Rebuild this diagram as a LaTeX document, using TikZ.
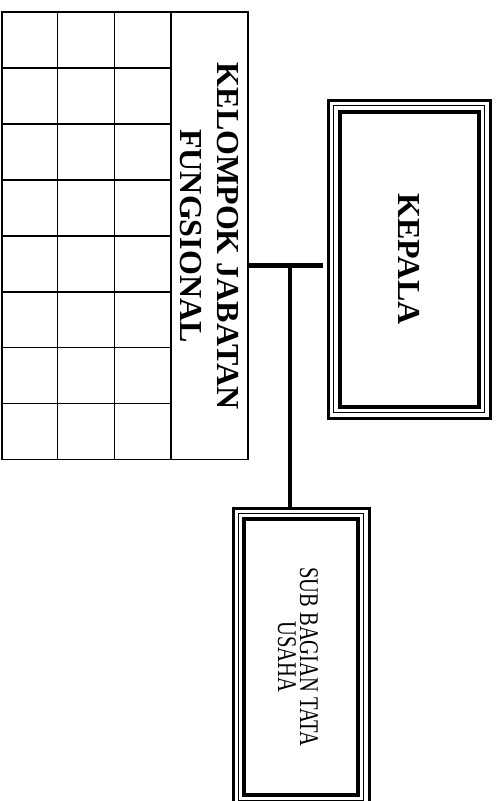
\documentclass[tikz,border=0pt]{standalone}
\usepackage{fontspec}
\setmainfont{Liberation Serif}
\newfontfamily\condserif[FakeStretch=0.76]{Liberation Serif}
\usetikzlibrary{calc}
\begin{document}
\begin{tikzpicture}[x=1pt,y=-1pt,
  gridline/.style={line width=1.6pt},
  conn/.style={line width=4.5pt},
  outerframe/.style={draw, line width=3pt, outer sep=0pt, inner sep=0pt},
  thinframe/.style={line width=1.3pt},
  innerframe/.style={line width=4pt},
  headfont/.style={font=\bfseries\fontsize{32}{37}\selectfont},
  subfont/.style={font=\condserif\fontsize{27}{22}\selectfont}]
\useasboundingbox (0,0) rectangle (498,801);
\clip (0,0) rectangle (498,801);
\fill[white] (0,0) rectangle (498,801);

% grid of the functional group
\node[draw, gridline, outer sep=0pt, inner sep=0pt, minimum width=246, minimum height=447.5, anchor=north west] (kelompok) at (1.8,12) {};
\foreach \x in {57.3,114.3,171} \draw[gridline] (\x,12) -- (\x,459.5);
\foreach \k in {1,...,7} \draw[gridline] (1.8,{12+55.94*\k}) -- (171,{12+55.94*\k});
\node[rotate=-90, align=center, headfont] (kjf) at (209,236) {KELOMPOK JABATAN\\FUNGSIONAL};

% KEPALA
\node[outerframe, minimum width=162, minimum height=318] (kepala) at (409,259) {};
\draw[thinframe] ($(kepala.north west)+(5.5,5.5)$) rectangle ($(kepala.south east)+(-5.5,-5.5)$);
\draw[innerframe] ($(kepala.north west)+(11.5,11.5)$) rectangle ($(kepala.south east)+(-11.5,-11.5)$);
\node[rotate=-90, headfont] (kepalatext) at (409,259) {KEPALA};

% SUB BAGIAN TATA USAHA
\node[outerframe, minimum width=136, minimum height=298] (sub) at (301,657) {};
\draw[thinframe] ($(sub.north west)+(5.5,5.5)$) rectangle ($(sub.south east)+(-5.5,-5.5)$);
\draw[innerframe] ($(sub.north west)+(11,11)$) rectangle ($(sub.south east)+(-11,-11)$);
\node[rotate=-90, align=center, subfont] (subtext) at (298,657) {SUB BAGIAN TATA\\USAHA};

% connectors
\coordinate (jn) at (290,265.5);
\draw[conn] (kelompok.east |- jn) -- ($(kepala.west |- jn)+(-5,0)$);
\draw[conn] (jn) -- (jn |- sub.north);
\end{tikzpicture}
\end{document}
